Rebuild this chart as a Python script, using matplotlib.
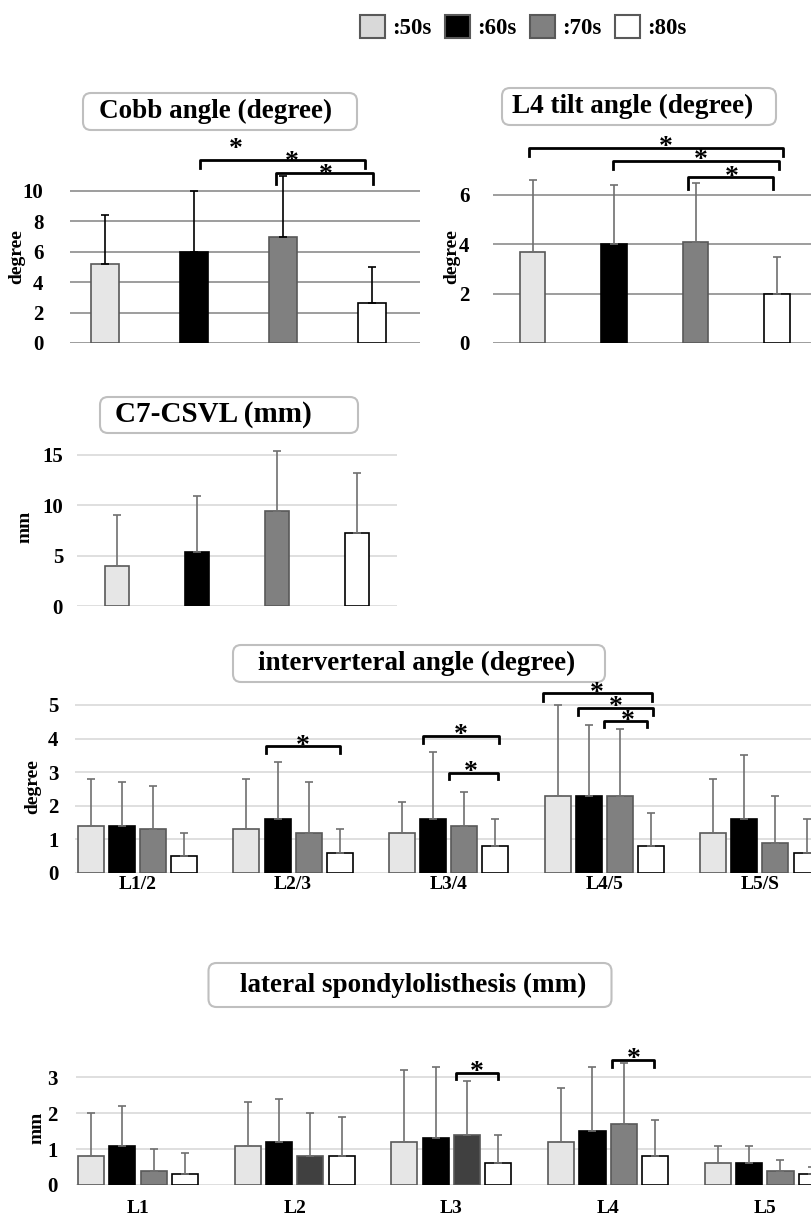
import matplotlib
matplotlib.use("Agg")
import numpy as np
import matplotlib.pyplot as plt
from matplotlib.patches import Patch, FancyBboxPatch
from matplotlib.transforms import IdentityTransform

plt.rcParams['font.family'] = ['Liberation Serif', 'DejaVu Serif']
plt.rcParams['font.weight'] = 'bold'

# ---- data ----
groups = [':50s', ':60s', ':70s', ':80s']
fills = ['#e6e6e6', '#000000', '#808080', '#ffffff']
edges = ['#595959', '#000000', '#595959', '#000000']

cobb_mean = [5.2, 6.0, 7.0, 2.6]
cobb_sd = [3.2, 4.0, 4.0, 2.4]
tilt_mean = [3.7, 4.0, 4.1, 2.0]
tilt_sd = [2.9, 2.4, 2.4, 1.5]
csvl_mean = [4.0, 5.4, 9.4, 7.2]
csvl_sd = [5.0, 5.5, 6.0, 6.0]

interv_labels = ['L1/2', 'L2/3', 'L3/4', 'L4/5', 'L5/S']
interv_mean = [[1.4, 1.3, 1.2, 2.3, 1.2],
               [1.4, 1.6, 1.6, 2.3, 1.6],
               [1.3, 1.2, 1.4, 2.3, 0.9],
               [0.5, 0.6, 0.8, 0.8, 0.6]]
interv_sd = [[1.4, 1.5, 0.9, 2.7, 1.6],
             [1.3, 1.7, 2.0, 2.1, 1.9],
             [1.3, 1.5, 1.0, 2.0, 1.4],
             [0.7, 0.7, 0.8, 1.0, 1.0]]

lat_labels = ['L1', 'L2', 'L3', 'L4', 'L5']
lat_mean = [[0.8, 1.1, 1.2, 1.2, 0.6],
            [1.1, 1.2, 1.3, 1.5, 0.6],
            [0.4, 0.8, 1.4, 1.7, 0.4],
            [0.3, 0.8, 0.6, 0.8, 0.3]]
lat_sd = [[1.2, 1.2, 2.0, 1.5, 0.5],
          [1.1, 1.2, 2.0, 1.8, 0.5],
          [0.6, 1.2, 1.5, 1.7, 0.3],
          [0.6, 1.1, 0.8, 1.0, 0.2]]
lat_70_fill = ['#808080', '#404040', '#404040', '#808080', '#808080']

# significance brackets: (x left, x right, y top, y leg end), stars: (x, y)
cobb_br = [(1.07, 2.92, 12.04, 11.5), (1.92, 3.01, 11.18, 10.46)]
cobb_st = [(1.47, 13.2), (2.1, 12.3), (2.48, 11.5)]
tilt_br = [(-0.04, 3.07, 7.90, 7.58), (0.99, 3.03, 7.38, 7.05), (1.91, 2.95, 6.73, 6.24)]
tilt_st = [(1.63, 8.19), (2.07, 7.66), (2.45, 7.01)]
interv_br = [(0.824, 1.301, 3.78, 3.58), (1.837, 2.321, 4.08, 3.88), (2.002, 2.316, 2.99, 2.79),
             (2.608, 3.305, 5.35, 5.12), (2.833, 3.315, 4.92, 4.70), (2.998, 3.272, 4.53, 4.34)]
interv_st = [(1.064, 3.98), (2.079, 4.31), (2.143, 3.21), (2.951, 5.54), (3.075, 5.12), (3.150, 4.73)]
lat_br = [(2.027, 2.295, 3.13, 2.94), (3.023, 3.293, 3.48, 3.30)]
lat_st = [(2.165, 3.34), (3.161, 3.69)]

W, H = 811, 1216
fig = plt.figure(figsize=(W / 100, H / 100), dpi=100)


def panel(left, right, top, zero, ppu, c0, step, ticks, gcol, pad):
    ax = fig.add_axes([left / W, 1 - zero / H, (right - left) / W, (zero - top) / H])
    ax.set_xlim((left - c0) / step, (right - c0) / step)
    ax.set_ylim(0, (zero - top) / ppu)
    ax.set_yticks(ticks)
    ax.grid(axis='y', color=gcol, linewidth=1.2)
    ax.set_axisbelow(True)
    ax.patch.set_alpha(0)
    for s in ax.spines.values():
        s.set_visible(False)
    ax.tick_params(length=0, labelsize=15, pad=pad)
    ax.set_xticks([])
    return ax


def brackets(ax, br, st):
    for x1, x2, yt, yb in br:
        ax.plot([x1, x1, x2, x2], [yb, yt, yt, yb], color='black', lw=2, clip_on=False)
    for x, y in st:
        ax.annotate('*', (x, y), xytext=(0, -5), textcoords='offset points',
                    ha='center', va='center', fontsize=20, annotation_clip=False)


def title_box(cx, cy, w, h, txt, tx, size=19.5):
    p = FancyBboxPatch((cx - w / 2, H - cy - h / 2), w, h,
                       boxstyle='round,pad=0,rounding_size=8',
                       transform=IdentityTransform(), facecolor='white',
                       edgecolor='#bfbfbf', linewidth=1.5, zorder=-1)
    fig.add_artist(p)
    fig.text(tx / W, 1 - cy / H, txt, ha='center', va='center', fontsize=size)


def single(ax, mean, sd, ecol):
    x = np.arange(len(mean))
    ax.bar(x, mean, width=0.31, color=fills, edgecolor=edges, linewidth=1.2)
    ax.errorbar(x, mean, yerr=[np.zeros(len(sd)), sd], fmt='none', ecolor=ecol,
                elinewidth=1.2, capsize=3, capthick=1.2)


def grouped(ax, means, sds, labels, fill70=None):
    x = np.arange(len(labels))
    for i in range(4):
        col = fills[i] if (i != 2 or fill70 is None) else fill70
        ax.bar(x + (i - 1.5) * 0.2, means[i], width=0.167, color=col,
               edgecolor=edges[i], linewidth=1.2)
        ax.errorbar(x + (i - 1.5) * 0.2, means[i], yerr=[np.zeros(len(labels)), sds[i]],
                    fmt='none', ecolor='#707070', elinewidth=1.2, capsize=3, capthick=1.2)
    ax.set_xticks(x)
    ax.set_xticklabels(labels, fontsize=14)


def ylab(x, y, txt):
    fig.text(x / W, 1 - y / H, txt, rotation=90, ha='center', va='center', fontsize=14)


# Cobb angle
ax1 = panel(70, 420, 140, 343, 15.2, 105, 89, [0, 2, 4, 6, 8, 10], '#8c8c8c', 19)
single(ax1, cobb_mean, cobb_sd, '#000000')
brackets(ax1, cobb_br, cobb_st)
ylab(17, 257, 'degree')
title_box(220, 111.5, 274, 37, 'Cobb angle (degree)', 216)

# L4 tilt
ax2 = panel(493, 811, 140, 343, 24.67, 532.5, 81.5, [0, 2, 4, 6], '#8c8c8c', 17)
single(ax2, tilt_mean, tilt_sd, '#707070')
brackets(ax2, tilt_br, tilt_st)
ylab(452, 257, 'degree')
title_box(639, 106.5, 274, 37, 'L4 tilt angle (degree)', 633)

# C7-CSVL
ax3 = panel(77, 397, 450, 606, 10.07, 117, 80, [0, 5, 10, 15], '#d9d9d9', 10)
single(ax3, csvl_mean, csvl_sd, '#707070')
ylab(25, 527, 'mm')
title_box(229, 415, 258, 36, 'C7-CSVL (mm)', 213, size=21)

# interverteral angle
ax4 = panel(75, 880, 690, 873, 33.6, 137.5, 155.6, [0, 1, 2, 3, 4, 5], '#d9d9d9', 12)
grouped(ax4, interv_mean, interv_sd, interv_labels)
ax4.tick_params(axis='x', pad=2)
brackets(ax4, interv_br, interv_st)
ylab(33, 787, 'degree')
title_box(419, 663.5, 372, 37, 'interverteral angle (degree)', 417)

# lateral spondylolisthesis
ax5 = panel(76, 880, 1040, 1185, 35.9, 138, 156.7, [0, 1, 2, 3], '#d9d9d9', 13)
grouped(ax5, lat_mean, lat_sd, lat_labels, fill70=lat_70_fill)
ax5.tick_params(axis='x', pad=11)
brackets(ax5, lat_br, lat_st)
ylab(37, 1128, 'mm')
title_box(410, 985, 403, 44, 'lateral spondylolisthesis (mm)', 413)

# legend
handles = [Patch(facecolor=f, edgecolor='#595959', linewidth=1.5)
           for f in ['#d9d9d9', '#000000', '#808080', '#ffffff']]
fig.legend(handles, groups, loc='center', bbox_to_anchor=(523 / W, 1 - 27 / H), ncol=4,
           frameon=False, handlelength=1.1, handleheight=1.2, handletextpad=0.3,
           columnspacing=0.6, prop={'size': 16.5, 'weight': 'bold'})

fig.savefig('out.png', dpi=100)
